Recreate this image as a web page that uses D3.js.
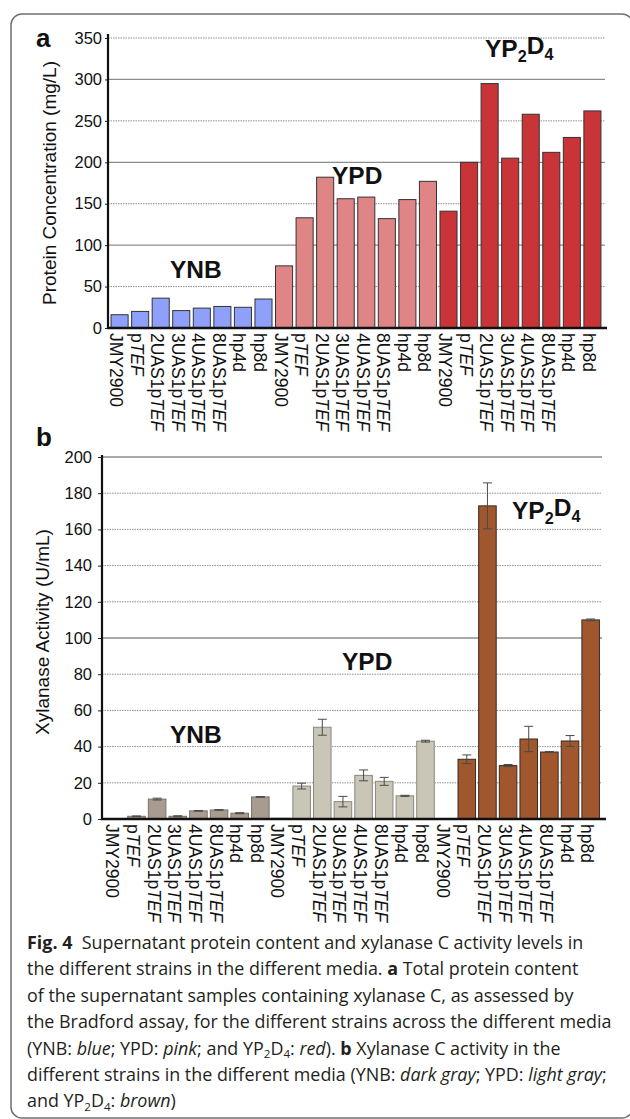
<!DOCTYPE html>
<html>
<head>
<meta charset="utf-8">
<script src="https://cdn.jsdelivr.net/npm/d3@7"></script>
<style>
  body { margin: 0; background: #fff; }
  svg text { font-family: "Liberation Sans", Arial, sans-serif; }
  .cap text { font-family: "Open Sans", "Noto Sans", sans-serif; fill: #231f20; }
</style>
</head>
<body>
<svg id="fig" width="630" height="1119"></svg>
<script>
/* global d3 */

// data

const media = ["YNB", "YPD", "YP2D4"]
const strains = ["JMY2900", "pTEF", "2UAS1pTEF", "3UAS1pTEF", "4UAS1pTEF", "8UAS1pTEF", "hp4d", "hp8d"]

// a: protein concentration (mg/L)
const proteinYNB = [16, 20, 36, 21, 24, 26, 25, 35]
const proteinYPD = [75, 133, 182, 156, 158, 132, 155, 177]
const proteinYP2D4 = [141, 200, 295, 205, 258, 212, 230, 262]
const proteinTicks = [0, 50, 100, 150, 200, 250, 300, 350]

// b: xylanase activity (U/mL)
const xylYNB = [0, 1.5, 11, 1.5, 4.5, 5, 3.2, 12.2]
const xylYNBErr = [0, 0.2, 0.5, 0.3, 0.2, 0.2, 0.3, 0.2]
const xylYPD = [0.4, 18.2, 50.7, 9.6, 24.1, 20.8, 12.8, 43]
const xylYPDErr = [0, 1.6, 4.4, 2.9, 3, 2.2, 0.3, 0.5]
const xylYP2D4 = [0, 33, 173, 29.5, 44.2, 37, 43.1, 110]
const xylYP2D4Err = [0, 2.4, 12.7, 0.6, 7, 0.3, 3, 0.5]
const xylTicks = [0, 20, 40, 60, 80, 100, 120, 140, 160, 180, 200]

const svg = d3.select("#fig")

// frame
svg.append("rect")
  .attr("x", 11).attr("y", 14)
  .attr("width", 622).attr("height", 1104)
  .attr("rx", 11)
  .attr("fill", "none")
  .attr("stroke", "#707070")
  .attr("stroke-width", 1.5)

// YP2D4 with subscripts
const mediumText = (sel, m, sub = "0.32em") => {
  if (m !== "YP2D4") return sel.text(m)
  sel.append("tspan").text("YP")
  sel.append("tspan").attr("font-size", "0.66em").attr("dy", sub).text("2")
  sel.append("tspan").attr("dy", "-" + sub).text("D")
  sel.append("tspan").attr("font-size", "0.66em").attr("dy", sub).text("4")
  return sel
}

const strainText = (sel, s) => {
  if (s.endsWith("TEF")) {
    sel.append("tspan").text(s.slice(0, -3))
    sel.append("tspan").attr("font-style", "italic").text("TEF")
  } else sel.text(s)
}

const panel = cfg => {
  const g = svg.append("g")
  const rows = media.flatMap((m, i) => strains.map((s, j) => ({
    key: m + "|" + s, strain: s, i,
    v: cfg.values[i][j],
    e: cfg.errors ? cfg.errors[i][j] : 0
  })))

  const x = d3.scaleBand()
    .domain(rows.map(d => d.key))
    .range(cfg.xRange)
    .paddingInner(cfg.padIn)
    .paddingOuter(0.1)

  const y = d3.scaleLinear()
    .domain([0, d3.max(cfg.ticks)])
    .range(cfg.yRange)

  // gridlines
  g.append("g").selectAll("line")
    .data(cfg.ticks.slice(1))
  .join("line")
    .attr("x1", cfg.axisX).attr("x2", cfg.gridRight)
    .attr("y1", d => y(d)).attr("y2", d => y(d))
    .attr("stroke", d => d % cfg.major === 0 ? "#8c8c8c" : "#858585")
    .attr("stroke-width", d => d % cfg.major === 0 ? 1.3 : 0.9)
    .attr("stroke-dasharray", d => d % cfg.major === 0 ? null : "1.5,1")

  // bars
  g.append("g").selectAll("rect")
    .data(rows.filter(d => d.v > 0))
  .join("rect")
    .attr("x", d => x(d.key))
    .attr("width", x.bandwidth())
    .attr("y", d => y(d.v))
    .attr("height", d => y(0) - y(d.v))
    .attr("fill", d => cfg.fills[d.i])
    .attr("stroke", d => cfg.strokes[d.i])
    .attr("stroke-width", 1)

  // error bars
  const eb = g.append("g").selectAll("g")
    .data(rows.filter(d => d.e > 0))
  .join("g")
    .attr("stroke", "#4a4a4a")
    .attr("stroke-width", 1)
  const cx = d => x(d.key) + x.bandwidth() / 2
  eb.append("line")
    .attr("x1", cx).attr("x2", cx)
    .attr("y1", d => y(d.v - d.e)).attr("y2", d => y(d.v + d.e))
  ;[-1, 1].forEach(s => eb.append("line")
    .attr("x1", d => cx(d) - 4.5).attr("x2", d => cx(d) + 4.5)
    .attr("y1", d => y(d.v + s * d.e)).attr("y2", d => y(d.v + s * d.e)))

  // y axis
  const yAxis = g.append("g")
    .attr("transform", `translate(${cfg.axisX},0)`)
    .call(d3.axisLeft(y).tickValues(cfg.ticks).tickSize(cfg.tickSize).tickPadding(cfg.tickPad))
  yAxis.select(".domain").remove()
  yAxis.selectAll("line").attr("stroke", "#222")
  yAxis.selectAll("text")
    .attr("font-size", 16.5)
    .attr("fill", "#111")
    .attr("font-family", "Liberation Sans, Arial, sans-serif")
  g.append("line")
    .attr("x1", cfg.axisX).attr("x2", cfg.axisX)
    .attr("y1", cfg.axisTop).attr("y2", y(0) + 1)
    .attr("stroke", "#111").attr("stroke-width", 2.2)

  // x axis
  const xAxis = g.append("g")
    .attr("transform", `translate(0,${y(0)})`)
    .call(d3.axisBottom(x).tickSize(0).tickFormat(""))
  xAxis.select(".domain").remove()
  xAxis.selectAll(".tick text")
    .attr("transform", "rotate(90)")
    .attr("text-anchor", "start")
    .attr("x", cfg.labelGap)
    .attr("y", 9.5)
    .attr("dy", null)
    .attr("font-size", 17.5)
    .attr("fill", "#111")
    .attr("font-family", "Liberation Sans, Arial, sans-serif")
    .each(function (k) { strainText(d3.select(this), k.split("|")[1]) })
  g.append("line")
    .attr("x1", cfg.axisX - 1).attr("x2", cfg.baseRight)
    .attr("y1", y(0)).attr("y2", y(0))
    .attr("stroke", "#111").attr("stroke-width", 2.5)

  // axis title
  g.append("text")
    .attr("transform", `translate(${cfg.titleX},${cfg.titleY}) rotate(-90)`)
    .attr("text-anchor", "middle")
    .attr("font-size", 19)
    .attr("fill", "#111")
    .text(cfg.title)

  // medium labels
  cfg.labels.forEach((p, i) => {
    mediumText(g.append("text")
      .attr("x", p[0]).attr("y", p[1])
      .attr("font-size", 24.5)
      .attr("font-weight", "bold")
      .attr("fill", "#111"), media[i])
  })

  // panel letter
  g.append("text")
    .attr("x", 36).attr("y", cfg.letterY)
    .attr("font-size", 26)
    .attr("font-weight", "bold")
    .attr("fill", "#111")
    .text(cfg.letter)
}

panel({
  letter: "a", letterY: 47,
  values: [proteinYNB, proteinYPD, proteinYP2D4],
  ticks: proteinTicks, major: 100,
  xRange: [109, 603], padIn: 0.17,
  yRange: [328, 38],
  axisX: 108, axisTop: 34, gridRight: 605, baseRight: 607,
  tickSize: 3, tickPad: 3, labelGap: 5,
  fills: ["#8fa0fa", "#e08585", "#c83438"],
  strokes: ["#333", "#333", "#333"],
  title: "Protein Concentration (mg/L)", titleX: 56, titleY: 183,
  labels: [[170, 278], [332, 184], [485, 57]]
})

panel({
  letter: "b", letterY: 446,
  values: [xylYNB, xylYPD, xylYP2D4],
  errors: [xylYNBErr, xylYPDErr, xylYP2D4Err],
  ticks: xylTicks, major: 100,
  xRange: [105, 601.5], padIn: 0.15,
  yRange: [819, 457],
  axisX: 102, axisTop: 455, gridRight: 602, baseRight: 606,
  tickSize: 4, tickPad: 6, labelGap: 5,
  fills: ["#a89b8f", "#c9c6b8", "#a0572d"],
  strokes: ["#7a7068", "#8a877d", "#3a2a20"],
  title: "Xylanase Activity (U/mL)", titleX: 49, titleY: 632,
  labels: [[170, 743], [342, 670], [512, 519]]
})

// caption
const capLines = [
  [["Fig. 4", "b"], ["  Supernatant protein content and xylanase C activity levels in"]],
  [["the different strains in the different media. "], ["a", "b"], [" Total protein content"]],
  [["of the supernatant samples containing xylanase C, as assessed by"]],
  [["the Bradford assay, for the different strains across the different media"]],
  [["(YNB: "], ["blue", "i"], ["; YPD: "], ["pink", "i"], ["; and YP"], ["2", "s"], ["D"], ["4", "s"], [": "], ["red", "i"], ["). "], ["b", "b"], [" Xylanase C activity in the"]],
  [["different strains in the different media (YNB: "], ["dark gray", "i"], ["; YPD: "], ["light gray", "i"], [";"]],
  [["and YP"], ["2", "s"], ["D"], ["4", "s"], [": "], ["brown", "i"], [")"]]
]

const cap = svg.append("g").attr("class", "cap")
const capText = capLines.map((parts, li) => {
  const t = cap.append("text")
    .attr("x", 0).attr("y", 949 + li * 26.4)
    .attr("font-size", 17.5)
    .attr("xml:space", "preserve")
    .style("white-space", "pre")
  let shifted = false
  parts.forEach(([s, k]) => {
    const sp = t.append("tspan").text(s)
    if (k === "b") sp.attr("font-weight", "bold")
    if (k === "i") sp.attr("font-style", "italic")
    if (k === "s") { sp.attr("font-size", "0.65em").attr("dy", "0.3em"); shifted = true }
    else if (shifted) { sp.attr("dy", "-0.195em"); shifted = false }
  })
  return t
})
const w = capText[3].node().getBBox().width
cap.attr("transform", `translate(27,0) scale(${585 / w},1)`)
</script>
</body>
</html>
